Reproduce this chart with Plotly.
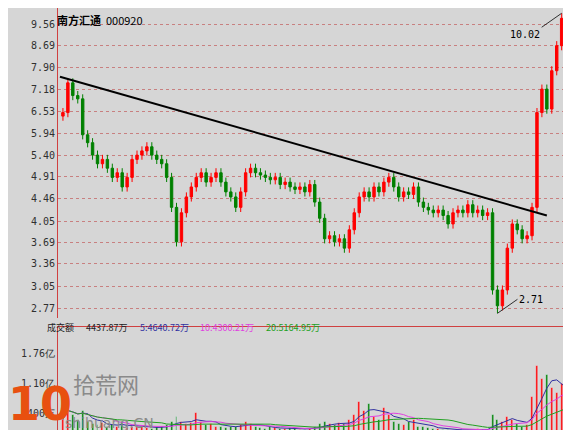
import math
import pandas as pd
import plotly.graph_objects as go

# daily closes
closes = [6.5, 7.4, 7.0, 6.9, 5.9, 5.7, 5.4, 5.2, 5.3, 5.1,
          4.9, 5.0, 4.7, 4.9, 5.3, 5.4, 5.5, 5.6, 5.4, 5.3,
          5.2, 4.9, 4.3, 3.7, 4.2, 4.5, 4.7, 4.9, 5.0, 4.8,
          4.9, 5.0, 4.8, 4.6, 4.5, 4.3, 4.6, 5.0, 5.1, 5.0,
          4.95, 4.9, 4.85, 4.9, 4.75, 4.8, 4.7, 4.65, 4.7, 4.6,
          4.75, 4.4, 4.1, 3.75, 3.8, 3.7, 3.75, 3.6, 3.9, 4.2,
          4.5, 4.6, 4.5, 4.7, 4.6, 4.8, 4.9, 4.7, 4.5, 4.6,
          4.55, 4.7, 4.4, 4.3, 4.25, 4.2, 4.25, 4.15, 4.0, 4.2,
          4.25, 4.2, 4.35, 4.2, 4.25, 4.15, 4.2, 3.0, 2.8, 3.0,
          3.6, 4.0, 3.9, 3.75, 3.8, 4.3, 6.5, 7.2, 6.6, 7.8,
          8.7, 9.8, 9.2, 8.9]
first_open = 6.4
# turnover in 万
volumes = [3000, 7000, 4000, 3000, 5000, 2500, 2000, 1800, 2200, 1500,
           1800, 1500, 2500, 1200, 1500, 1300, 1400, 1200, 1000, 1300,
           1500, 1800, 2500, 3500, 2500, 2000, 2200, 4500, 2500, 1800,
           2000, 1500, 1500, 1200, 1300, 1500, 1800, 2500, 2000, 1500,
           1200, 1000, 1300, 1100, 1000, 900, 1200, 1000, 800, 700,
           1000, 1500, 2000, 2500, 2000, 1800, 2200, 2000, 3000, 4000,
           7000, 5000, 6500, 3500, 3000, 5500, 4000, 2500, 2000, 1800,
           2500, 3000, 1500, 1300, 1200, 1000, 900, 800, 700, 600,
           800, 600, 700, 600, 900, 700, 800, 4000, 3000, 2500,
           3500, 3000, 2000, 1500, 1800, 8000, 15000, 12000, 13000, 10000,
           9000, 11000, 7000, 5000]
price_ticks = [2.77, 3.05, 3.36, 3.69, 4.05, 4.46, 4.91, 5.40, 5.94, 6.53, 7.18, 7.90, 8.69, 9.56]
vol_ticks = [4400, 11000, 17600]
vol_tick_text = ['4400万', '1.10亿', '1.76亿']
trend_x = [-0.6, 98]
trend_y = [7.6, 4.15]
peak_i, peak_v = 101, 10.02
low_i, low_v = 88, 2.71

n = len(closes)
idx = list(range(n))
opens = [first_open] + closes[:-1]
highs = [max(o, c) * 1.02 for o, c in zip(opens, closes)]
lows = [min(o, c) * 0.98 for o, c in zip(opens, closes)]
highs[peak_i] = peak_v
lows[low_i] = low_v
up = [c >= o for o, c in zip(opens, closes)]

vol = pd.Series(volumes)
red, green = '#ff0000', '#008000'

fig = go.Figure()
fig.add_trace(go.Candlestick(x=idx, open=opens, high=highs, low=lows, close=closes,
                             increasing=dict(line=dict(color=red, width=1), fillcolor=red),
                             decreasing=dict(line=dict(color=green, width=1), fillcolor=green),
                             whiskerwidth=0))
fig.add_trace(go.Scatter(x=trend_x, y=trend_y, mode='lines', line=dict(color='black', width=2)))
fig.add_trace(go.Bar(x=idx, y=volumes, yaxis='y2', marker_color=[red if u else green for u in up],
                     width=0.4))
for w, col in [(5, '#3030a0'), (10, '#e040e0'), (20, '#20a020')]:
    fig.add_trace(go.Scatter(x=idx, y=vol.rolling(w, min_periods=1).mean(), yaxis='y2',
                             mode='lines', line=dict(color=col, width=1)))

grid = dict(showgrid=True, gridcolor='#c88080', griddash='dot', gridwidth=1)
fig.update_layout(
    width=571, height=430, showlegend=False,
    margin=dict(l=50, r=5, t=0, b=5),
    paper_bgcolor='#d6d6d6', plot_bgcolor='#d6d6d6',
    font=dict(family='DejaVu Sans Mono', size=10, color='#303030'),
    xaxis=dict(range=[-1, n - 0.5], showticklabels=False, showgrid=False, zeroline=False,
               rangeslider=dict(visible=False), anchor='y2', showline=True, linecolor='#d04040',
               mirror=True),
    yaxis=dict(type='log', domain=[0.27, 1], range=[0.4236, 1.0108], tickvals=price_ticks,
               ticktext=['%.2f' % t for t in price_ticks], zeroline=False, showline=True,
               linecolor='#d04040', mirror=True, ticks='', **grid),
    yaxis2=dict(domain=[0, 0.25], range=[0, 23600], tickvals=vol_ticks, ticktext=vol_tick_text,
                showgrid=False, zeroline=False, showline=True, linecolor='#d04040', mirror=True),
    bargap=0,
)

fig.add_annotation(xref='paper', yref='paper', x=-0.005, y=0.995, xanchor='left', yanchor='top',
                   text='<b>南方汇通</b>  000920', showarrow=False,
                   font=dict(family='Noto Sans CJK SC', size=11, color='black'))
fig.add_annotation(x=peak_i, y=math.log10(peak_v), ax=-20, ay=14, text='10.02', showarrow=True,
                   arrowhead=0, arrowwidth=1, arrowcolor='#303030', xanchor='right', yanchor='top',
                   font=dict(size=10, color='black'))
fig.add_annotation(x=low_i, y=math.log10(low_v), ax=20, ay=-14, text='2.71', showarrow=True,
                   arrowhead=0, arrowwidth=1, arrowcolor='#303030', xanchor='left',
                   font=dict(size=10, color='black'))
heads = [('成交额', '#202020', -0.025), ('4437.87万', '#202020', 0.05),
         ('5:4640.72万', '#3030a0', 0.155), ('10:4300.21万', '#e040e0', 0.272),
         ('20:5164.95万', '#20a020', 0.40)]
for txt, col, xp in heads:
    fig.add_annotation(xref='paper', yref='paper', x=xp, y=0.268, xanchor='left', yanchor='top',
                       text=txt, showarrow=False,
                       font=dict(family='Noto Sans CJK SC', size=9, color=col))
fig.add_annotation(xref='paper', yref='paper', x=-0.1, y=0.0, xanchor='left', yanchor='bottom',
                   text='<b>10</b>', showarrow=False,
                   font=dict(family='DejaVu Sans', size=46, color='#e85010'))
fig.add_annotation(xref='paper', yref='paper', x=0.025, y=0.075, xanchor='left', yanchor='bottom',
                   text='拾荒网', showarrow=False,
                   font=dict(family='Noto Sans CJK SC', size=22, color='#8a8a8a'))
fig.add_annotation(xref='paper', yref='paper', x=0.01, y=0.0, xanchor='left', yanchor='bottom',
                   text='shihuang.CN', showarrow=False,
                   font=dict(family='DejaVu Sans', size=14, color='#8a8a8a'))

fig.write_html("out.html")
